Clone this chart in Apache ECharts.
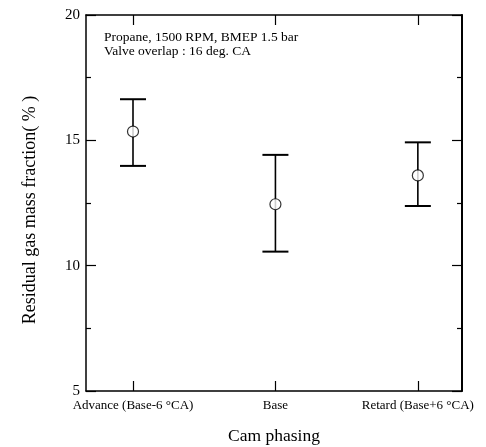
<!DOCTYPE html>
<html>
<head>
<meta charset="utf-8">
<script src="https://cdn.jsdelivr.net/npm/echarts@6/dist/echarts.min.js"></script>
<style>
  html, body { margin: 0; padding: 0; background: #fff; }
  #main { width: 486px; height: 447px; }
</style>
</head>
<body>
<div id="main"></div>
<script>
var categories = ['Advance (Base-6 °CA)', 'Base', 'Retard (Base+6 °CA)'];
var meanValues = [15.35, 12.45, 13.6];
var upperValues = [16.64, 14.42, 14.92];
var lowerValues = [13.98, 10.56, 12.38];
var yTicks = [5, 10, 15, 20];

var font = 'Liberation Serif';
var errData = [], meanData = [];
for (var i = 0; i < categories.length; i++) {
    errData.push([i, lowerValues[i], upperValues[i]]);
    meanData.push([i, meanValues[i]]);
}

var option = {
    animation: false,
    backgroundColor: '#fff',
    title: {
        text: 'Propane, 1500 RPM, BMEP 1.5 bar\nValve overlap : 16 deg. CA',
        left: 99,
        top: 25,
        textStyle: { fontFamily: font, fontSize: 13.5, fontWeight: 'normal', color: '#000', lineHeight: 14 }
    },
    grid: { left: 86, right: 24, top: 15, bottom: 56, outerBoundsMode: 'none' },
    xAxis: [{
        type: 'value',
        min: -0.33, max: 2.31,
        name: 'Cam phasing',
        nameLocation: 'middle',
        nameGap: 36,
        nameTextStyle: { fontFamily: font, fontSize: 17.5, color: '#000' },
        axisLine: { show: true, onZero: false, lineStyle: { color: '#000', width: 1.5 } },
        axisTick: { show: true, inside: true, length: 10, customValues: [0, 1, 2], lineStyle: { color: '#000', width: 1.2 } },
        axisLabel: {
            customValues: [0, 1, 2],
            margin: 8,
            fontFamily: font, fontSize: 13, color: '#000',
            formatter: function (v) { return categories[Math.round(v)]; }
        },
        splitLine: { show: false }
    }, {
        type: 'value',
        position: 'top',
        min: -0.33, max: 2.31,
        axisLine: { show: true, onZero: false, lineStyle: { color: '#000', width: 1.5 } },
        axisTick: { show: true, inside: true, length: 10, customValues: [0, 1, 2], lineStyle: { color: '#000', width: 1.2 } },
        axisLabel: { show: false },
        splitLine: { show: false }
    }],
    yAxis: [{
        type: 'value',
        min: yTicks[0], max: yTicks[yTicks.length - 1], interval: 5,
        name: 'Residual gas mass fraction( % )',
        nameLocation: 'middle',
        nameGap: 47,
        nameTextStyle: { fontFamily: font, fontSize: 18, color: '#000', padding: [0, 14, 0, 0] },
        axisLine: { show: true, onZero: false, lineStyle: { color: '#000', width: 1.5 } },
        axisTick: { show: true, inside: true, length: 10, lineStyle: { color: '#000', width: 1.2 } },
        minorTick: { show: true, splitNumber: 2, length: 5, lineStyle: { color: '#000', width: 1.2 } },
        axisLabel: { margin: 6, fontFamily: font, fontSize: 15, color: '#000' },
        splitLine: { show: false }
    }, {
        type: 'value',
        position: 'right',
        min: yTicks[0], max: yTicks[yTicks.length - 1], interval: 5,
        axisLine: { show: true, onZero: false, lineStyle: { color: '#000', width: 2 } },
        axisTick: { show: true, inside: true, length: 10, lineStyle: { color: '#000', width: 1.2 } },
        minorTick: { show: true, splitNumber: 2, length: 5, lineStyle: { color: '#000', width: 1.2 } },
        axisLabel: { show: false },
        splitLine: { show: false }
    }],
    series: [{
        type: 'custom',
        data: errData,
        renderItem: function (params, api) {
            var x = api.value(0);
            var lo = api.coord([x, api.value(1)]);
            var hi = api.coord([x, api.value(2)]);
            var hw = 13;
            return {
                type: 'group',
                children: [
                    { type: 'line', shape: { x1: lo[0], y1: lo[1], x2: hi[0], y2: hi[1] }, style: { stroke: '#000', lineWidth: 1.6 } },
                    { type: 'line', shape: { x1: lo[0] - hw, y1: lo[1], x2: lo[0] + hw, y2: lo[1] }, style: { stroke: '#000', lineWidth: 2 } },
                    { type: 'line', shape: { x1: hi[0] - hw, y1: hi[1], x2: hi[0] + hw, y2: hi[1] }, style: { stroke: '#000', lineWidth: 2 } }
                ]
            };
        },
        z: 2
    }, {
        type: 'scatter',
        data: meanData,
        symbol: 'circle',
        symbolSize: 11,
        itemStyle: { color: '#fff', borderColor: '#000', borderWidth: 1.2 },
        z: 3
    }]
};

echarts.init(document.getElementById('main')).setOption(option);
</script>
</body>
</html>
